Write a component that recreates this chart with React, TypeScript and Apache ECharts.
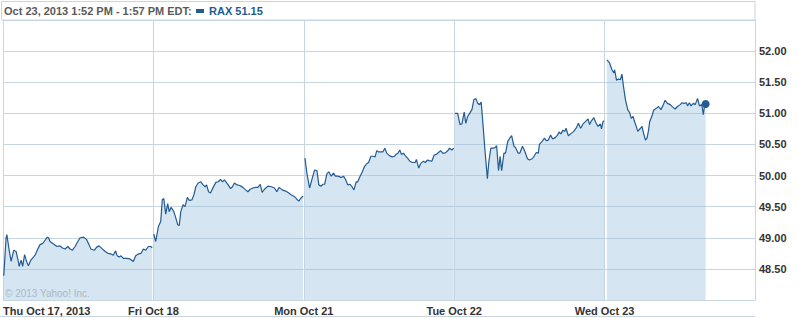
import React, { useEffect, useRef } from "react";
import * as echarts from "echarts";

// [minute of trading day, price]
const thu17: [number, number][] = [[2,48.39],[8,49.00],[10,49.05],[16,48.80],[21,48.62],[28,48.80],[34,48.78],[39,48.64],[42,48.54],[47,48.64],[51,48.54],[56,48.73],[61,48.62],[66,48.55],[72,48.64],[79,48.69],[84,48.73],[91,48.83],[96,48.89],[103,48.91],[109,48.96],[115,49.01],[118,49.00],[122,48.94],[131,48.90],[140,48.86],[148,48.87],[153,48.84],[161,48.82],[168,48.86],[174,48.82],[180,48.80],[187,48.86],[194,48.94],[200,49.00],[209,49.01],[217,48.97],[223,48.89],[228,48.82],[237,48.80],[243,48.85],[249,48.87],[256,48.83],[265,48.78],[272,48.75],[280,48.74],[286,48.72],[292,48.79],[296,48.71],[301,48.69],[306,48.71],[312,48.67],[321,48.67],[329,48.66],[338,48.62],[344,48.71],[351,48.74],[358,48.75],[364,48.82],[370,48.80],[377,48.86],[383,48.86],[387,48.84]];
const fri18: [number, number][] = [[1,49.06],[6,48.94],[13,49.18],[19,49.26],[23,49.61],[27,49.63],[32,49.38],[37,49.55],[41,49.42],[46,49.49],[53,49.42],[58,49.32],[63,49.21],[67,49.20],[71,49.42],[77,49.53],[82,49.50],[88,49.65],[93,49.60],[100,49.61],[105,49.69],[110,49.82],[116,49.88],[123,49.90],[129,49.85],[134,49.82],[138,49.85],[143,49.74],[148,49.72],[155,49.81],[162,49.89],[168,49.90],[174,49.94],[179,49.90],[184,49.93],[189,49.89],[194,49.85],[200,49.79],[205,49.82],[210,49.88],[217,49.85],[224,49.84],[232,49.81],[239,49.77],[245,49.74],[251,49.78],[258,49.80],[265,49.81],[271,49.81],[277,49.86],[282,49.73],[288,49.78],[297,49.83],[306,49.82],[314,49.80],[320,49.74],[326,49.81],[334,49.77],[343,49.75],[351,49.72],[357,49.69],[366,49.66],[372,49.62],[377,49.59],[383,49.64],[388,49.67]];
const mon21: [number, number][] = [[3,50.28],[8,50.04],[15,49.80],[22,49.96],[28,50.09],[34,50.08],[39,49.85],[45,49.83],[49,49.86],[54,49.86],[60,50.03],[65,50.06],[71,49.99],[77,50.04],[82,49.99],[88,49.99],[97,49.97],[103,49.99],[108,49.94],[114,49.85],[120,49.86],[125,49.82],[130,49.77],[136,49.90],[140,49.90],[146,49.99],[151,50.05],[157,50.14],[163,50.19],[168,50.21],[174,50.31],[180,50.31],[185,50.30],[189,50.40],[194,50.38],[200,50.38],[205,50.38],[210,50.44],[215,50.36],[222,50.32],[229,50.30],[235,50.31],[239,50.34],[244,50.36],[249,50.41],[253,50.34],[258,50.36],[263,50.32],[269,50.28],[275,50.23],[282,50.21],[289,50.21],[292,50.26],[298,50.12],[304,50.20],[310,50.23],[315,50.21],[321,50.25],[325,50.24],[332,50.23],[338,50.33],[344,50.34],[349,50.37],[355,50.40],[360,50.36],[366,50.36],[372,50.39],[378,50.44],[384,50.41],[389,50.44]];
const tue22: [number, number][] = [[2,51.00],[9,51.00],[15,50.82],[20,50.83],[26,51.02],[30,50.84],[35,50.95],[40,51.00],[46,51.06],[51,51.22],[56,51.24],[61,51.16],[66,51.14],[70,51.18],[75,50.79],[80,50.39],[86,49.95],[90,50.23],[95,50.44],[101,50.44],[106,50.45],[110,50.48],[115,50.08],[119,50.31],[123,50.08],[129,50.36],[133,50.36],[139,50.55],[144,50.60],[149,50.64],[155,50.47],[159,50.45],[166,50.36],[170,50.36],[177,50.47],[183,50.39],[190,50.27],[195,50.25],[202,50.27],[207,50.31],[213,50.37],[218,50.36],[221,50.50],[228,50.55],[234,50.60],[239,50.56],[244,50.57],[250,50.65],[255,50.59],[262,50.61],[268,50.65],[272,50.70],[277,50.67],[282,50.73],[287,50.71],[290,50.76],[296,50.64],[302,50.67],[310,50.71],[317,50.77],[322,50.84],[328,50.76],[334,50.83],[341,50.87],[347,50.91],[351,50.82],[356,50.88],[362,50.93],[368,50.84],[373,50.79],[379,50.83],[382,50.75],[386,50.87],[389,50.88]];
const wed23: [number, number][] = [[6,51.86],[13,51.81],[19,51.70],[24,51.65],[26,51.70],[31,51.53],[36,51.55],[41,51.54],[45,51.63],[49,51.43],[54,51.22],[60,51.06],[65,51.01],[69,50.92],[74,50.95],[77,50.88],[82,50.79],[86,50.71],[93,50.76],[97,50.79],[101,50.68],[106,50.57],[110,50.60],[114,50.73],[117,50.87],[123,50.96],[127,51.05],[134,51.08],[140,51.11],[146,51.06],[151,51.12],[157,51.21],[163,51.16],[170,51.14],[177,51.10],[183,51.07],[189,51.11],[196,51.14],[201,51.17],[206,51.16],[212,51.17],[215,51.12],[220,51.17],[224,51.12],[230,51.16],[235,51.14],[241,51.24],[246,51.12],[252,51.14],[256,50.98],[259,51.12],[262,51.15]];

const days = [thu17, fri18, mon21, tue22, wed23];
const dayLabels = ["Thu Oct 17, 2013", "Fri Oct 18", "Mon Oct 21", "Tue Oct 22", "Wed Oct 23"];
const minutesPerDay = 390;
const headerText = "Oct 23, 2013 1:52 PM - 1:57 PM EDT:";
const legendText = "RAX 51.15";
const copyright = "\u00a9 2013 Yahoo! Inc.";

const LINE = "#235b93";
const GRID = "#c8d6e1";
const FONT = "'Liberation Sans', Arial, sans-serif";

export default function App() {
  const ref = useRef<HTMLDivElement>(null);
  useEffect(() => {
    document.body.style.margin = "0";
    const chart = echarts.init(ref.current!, null, { renderer: "svg" });
    const toGlobal = (d: [number, number][], i: number) =>
      d.map(([m, v]) => [i * minutesPerDay + m, v]);
    const lastDay = toGlobal(days[days.length - 1], days.length - 1);
    const last = lastDay[lastDay.length - 1];
    const daySeries = days.map((d, i) => ({
      type: "line",
      data: toGlobal(d, i),
      showSymbol: false,
      symbol: "none",
      lineStyle: { color: LINE, width: 1.2 },
      areaStyle: { color: "rgba(151,190,220,0.4)", opacity: 1, origin: "start" },
      z: 3,
    }));
    chart.setOption({
      animation: false,
      grid: { left: 1, top: 20, right: 43, bottom: 18 },
      xAxis: {
        type: "value",
        min: 0,
        max: minutesPerDay * 5,
        interval: minutesPerDay,
        axisLine: { show: true, lineStyle: { color: GRID } },
        axisTick: { show: false },
        splitLine: { show: true, lineStyle: { color: GRID } },
        axisLabel: {
          showMaxLabel: false,
          alignMinLabel: "left",
          margin: 5,
          color: "#333",
          fontWeight: "bold",
          fontSize: 11,
          fontFamily: FONT,
          formatter: (v: number) => dayLabels[Math.round(v / minutesPerDay)] ?? "",
        },
      },
      yAxis: {
        type: "value",
        position: "right",
        min: 48,
        max: 52.5,
        interval: 0.5,
        axisLine: { show: true, lineStyle: { color: GRID } },
        axisTick: { show: false },
        splitLine: { show: true, lineStyle: { color: GRID } },
        axisLabel: {
          showMinLabel: false,
          showMaxLabel: false,
          margin: 4,
          color: "#333",
          fontWeight: "bold",
          fontSize: 11,
          fontFamily: FONT,
          formatter: (v: number) => v.toFixed(2),
        },
      },
      series: [
        ...daySeries,
        {
          type: "scatter",
          data: [last],
          symbolSize: 8,
          itemStyle: { color: LINE, opacity: 1 },
          z: 4,
        },
      ],
      graphic: [
        {
          type: "rect",
          shape: { x: 1.5, y: 1.5, width: 753.5, height: 18.5 },
          style: { fill: "none", stroke: GRID, lineWidth: 1 },
        },
        {
          type: "text",
          x: 4,
          y: 11,
          style: {
            text: headerText,
            fill: "#5a5a5a",
            font: `bold 11px ${FONT}`,
            verticalAlign: "middle",
          },
        },
        {
          type: "rect",
          shape: { x: 196, y: 9, width: 8, height: 4 },
          style: { fill: LINE },
        },
        {
          type: "text",
          x: 209,
          y: 11,
          style: {
            text: legendText,
            fill: "#1f5b94",
            font: `bold 11px ${FONT}`,
            verticalAlign: "middle",
          },
        },
        {
          type: "text",
          x: 5,
          y: 293,
          z: 10,
          style: {
            text: copyright,
            fill: "#a9b9c7",
            font: `10px ${FONT}`,
            verticalAlign: "middle",
          },
        },
        {
          type: "line",
          shape: { x1: 0, y1: 316.5, x2: 755, y2: 316.5 },
          style: { stroke: GRID, lineWidth: 1 },
        },
      ],
    });
    return () => chart.dispose();
  }, []);
  return <div ref={ref} style={{ width: 798, height: 318 }} />;
}
